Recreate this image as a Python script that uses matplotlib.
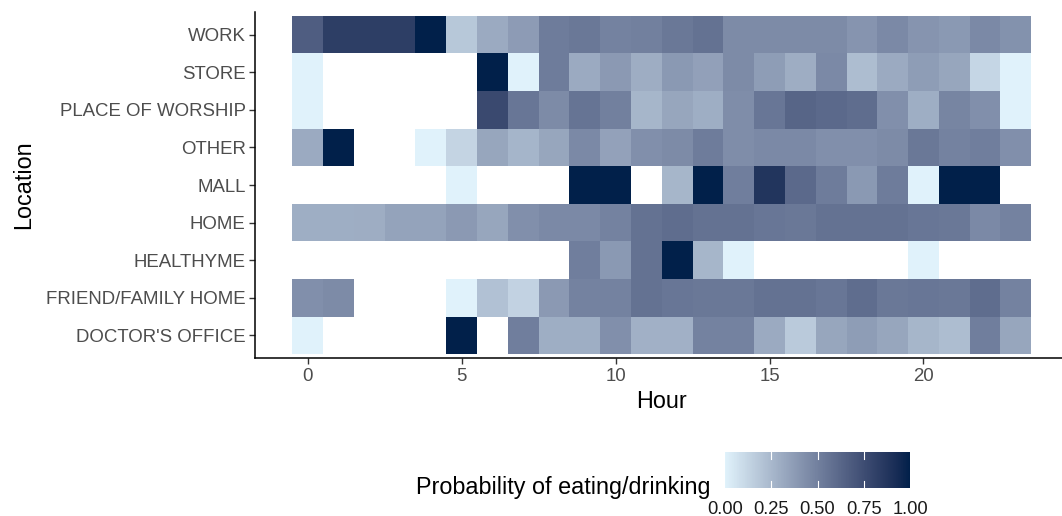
import numpy as np
import matplotlib
matplotlib.use("Agg")
import matplotlib.pyplot as plt
import matplotlib.colors as mcolors

plt.rcParams['font.family'] = ['Liberation Sans', 'DejaVu Sans']

nan = np.nan

hours = list(range(24))
# bottom to top (alphabetical, like the factor order)
locations = ["DOCTOR'S OFFICE", "FRIEND/FAMILY HOME", "HEALTHYME", "HOME", "MALL",
             "OTHER", "PLACE OF WORSHIP", "STORE", "WORK"]

doctors_office = [0.0, nan, nan, nan, nan, 1.0, nan, 0.51, 0.295, 0.295, 0.43, 0.285,
                  0.285, 0.49, 0.49, 0.31, 0.17, 0.33, 0.37, 0.33, 0.26, 0.23, 0.51, 0.33]
friend_family = [0.43, 0.45, nan, nan, nan, 0.0, 0.21, 0.135, 0.385, 0.49, 0.49, 0.57,
                 0.55, 0.54, 0.54, 0.57, 0.57, 0.55, 0.59, 0.54, 0.55, 0.54, 0.59, 0.49]
healthyme = [nan, nan, nan, nan, nan, nan, nan, nan, nan, 0.51, 0.39, 0.57,
             1.0, 0.26, 0.0, nan, nan, nan, nan, nan, 0.0, nan, nan, nan]
home = [0.295, 0.295, 0.30, 0.34, 0.34, 0.385, 0.33, 0.43, 0.46, 0.46, 0.49, 0.57,
        0.59, 0.57, 0.57, 0.55, 0.54, 0.57, 0.57, 0.57, 0.55, 0.54, 0.46, 0.49]
mall = [nan, nan, nan, nan, nan, 0.0, nan, nan, nan, 1.0, 1.0, nan,
        0.26, 1.0, 0.51, 0.88, 0.61, 0.52, 0.39, 0.52, 0.0, 1.0, 1.0, nan]
other = [0.31, 1.0, nan, nan, 0.0, 0.125, 0.33, 0.265, 0.33, 0.46, 0.35, 0.43,
         0.45, 0.52, 0.44, 0.46, 0.46, 0.43, 0.43, 0.45, 0.54, 0.49, 0.51, 0.43]
place_of_worship = [0.0, nan, nan, nan, nan, nan, 0.77, 0.55, 0.45, 0.56, 0.50, 0.26,
                    0.33, 0.295, 0.44, 0.55, 0.63, 0.61, 0.59, 0.43, 0.295, 0.48, 0.43, 0.0]
store = [0.0, nan, nan, nan, nan, nan, 1.0, 0.0, 0.52, 0.31, 0.385, 0.30,
         0.39, 0.355, 0.45, 0.37, 0.30, 0.46, 0.23, 0.31, 0.37, 0.33, 0.12, 0.0]
work = [0.67, 0.83, 0.83, 0.83, 1.0, 0.18, 0.31, 0.375, 0.52, 0.54, 0.49, 0.50,
        0.54, 0.57, 0.45, 0.45, 0.45, 0.45, 0.41, 0.46, 0.41, 0.39, 0.46, 0.42]

prob = np.array([doctors_office, friend_family, healthyme, home, mall,
                 other, place_of_worship, store, work])


# gradient interpolated in CIELAB, like ggplot's scale_fill_gradient
WHITE = np.array([0.95047, 1.0, 1.08883])
M = np.array([[0.4124, 0.3576, 0.1805], [0.2126, 0.7152, 0.0722], [0.0193, 0.1192, 0.9505]])


def to_lab(c):
    rgb = np.array(mcolors.to_rgb(c))
    lin = np.where(rgb <= 0.04045, rgb / 12.92, ((rgb + 0.055) / 1.055) ** 2.4)
    xyz = M @ lin / WHITE
    f = np.where(xyz > 0.008856, np.cbrt(xyz), 7.787 * xyz + 16 / 116)
    return np.array([116 * f[1] - 16, 500 * (f[0] - f[1]), 200 * (f[1] - f[2])])


def from_lab(lab):
    fy = (lab[0] + 16) / 116
    f = np.array([fy + lab[1] / 500, fy, fy - lab[2] / 200])
    xyz = np.where(f ** 3 > 0.008856, f ** 3, (f - 16 / 116) / 7.787) * WHITE
    lin = np.linalg.solve(M, xyz)
    rgb = np.where(lin <= 0.0031308, 12.92 * lin, 1.055 * np.clip(lin, 0, None) ** (1 / 2.4) - 0.055)
    return np.clip(rgb, 0, 1)


lo, hi = to_lab('#E0F2FB'), to_lab('#01204A')
cmap = mcolors.ListedColormap([from_lab(lo + t * (hi - lo)) for t in np.linspace(0, 1, 256)])

fig = plt.figure(figsize=(10.62, 5.16), dpi=100)
ax = fig.add_axes([255.3 / 1062, 158 / 516, 812.9 / 1062, 346 / 516])

x_edges = np.arange(len(hours) + 1) - 0.5
y_edges = np.arange(len(locations) + 1) + 0.5
mesh = ax.pcolormesh(x_edges, y_edges, np.ma.masked_invalid(prob), cmap=cmap, vmin=0, vmax=1)

ax.set_xlim(-1.7, 24.7)
ax.set_ylim(0.4, 9.6)
ax.set_xticks([0, 5, 10, 15, 20])
ax.set_yticks(range(1, len(locations) + 1))
ax.set_yticklabels(locations)
ax.tick_params(labelsize=13.4, labelcolor='#4D4D4D', color='#333333', length=4, width=1, pad=3)
for s in ['top', 'right']:
    ax.spines[s].set_visible(False)
for s in ['left', 'bottom']:
    ax.spines[s].set_linewidth(1.1)
ax.set_xlabel('Hour', fontsize=16.8, labelpad=4)
ax.set_ylabel('Location', fontsize=16.8, labelpad=8)

# colour bar legend
cax = fig.add_axes([725 / 1062, 28 / 516, 185 / 1062, 36 / 516])
cb = fig.colorbar(mesh, cax=cax, orientation='horizontal', ticks=[0, 0.25, 0.5, 0.75, 1])
cb.outline.set_visible(False)
cb.ax.set_xticklabels(['0.00', '0.25', '0.50', '0.75', '1.00'])
cax.tick_params(length=0, labelsize=13.2, labelcolor='#1A1A1A', pad=9)
for v in [0.25, 0.5, 0.75]:
    cax.axvline(v, ymin=0, ymax=0.2, color='white', lw=0.8)
    cax.axvline(v, ymin=0.8, ymax=1, color='white', lw=0.8)
fig.text(416 / 1062, 1 - 494 / 516, 'Probability of eating/drinking', ha='left', va='baseline', fontsize=16.8)

fig.savefig('out.png', dpi=100)
